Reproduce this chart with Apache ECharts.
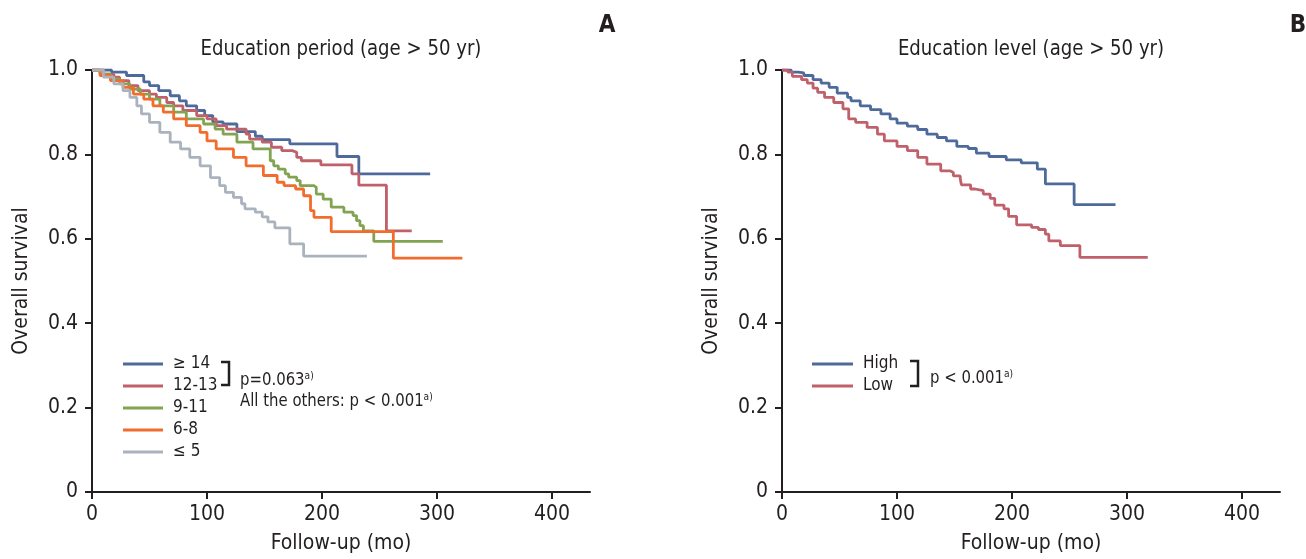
<!DOCTYPE html>
<html>
<head>
<meta charset="utf-8">
<script src="https://cdn.jsdelivr.net/npm/echarts@6/dist/echarts.min.js"></script>
<style>
  html, body { margin: 0; padding: 0; background: #fff; }
  #chart { width: 1306px; height: 559px; }
</style>
</head>
<body>
<div id="chart"></div>
<script>
// tick values
var ticksX = [0, 100, 200, 300, 400];
var ticksY = [0, 0.2, 0.4, 0.6, 0.8, 1.0];

// A: education period (months, survival)
var periodNames = ['\u2265 14', '12-13', '9-11', '6-8', '\u2264 5'];
var t14 = [0, 17, 30, 45, 50, 58, 68, 76, 82, 91, 98, 105, 114, 126, 142, 148, 172, 213, 232, 294];
var s14 = [1, .995, .987, .972, .963, .951, .939, .927, .915, .904, .892, .877, .872, .854, .843, .835, .825, .795, .754, .754];
var t12 = [0, 10, 19, 24, 32, 40, 50, 56, 65, 71, 79, 91, 100, 108, 117, 134, 137, 148, 156, 165, 174, 178, 182, 199, 226, 232, 256, 278];
var s12 = [1, .99, .983, .975, .963, .951, .943, .935, .923, .915, .904, .892, .884, .868, .86, .848, .836, .829, .817, .809, .805, .793, .785, .775, .754, .727, .619, .619];
var t9 = [0, 7, 16, 24, 33, 42, 50, 59, 71, 82, 97, 107, 114, 126, 140, 155, 158, 162, 168, 171, 178, 181, 193, 195, 201, 208, 219, 227, 230, 233, 236, 245, 305];
var s9 = [1, .99, .979, .967, .955, .943, .931, .915, .90, .884, .872, .86, .848, .829, .813, .785, .773, .765, .754, .746, .738, .726, .722, .706, .694, .675, .663, .655, .643, .631, .619, .594, .594];
var t6 = [0, 7, 16, 27, 36, 45, 53, 62, 71, 82, 94, 100, 108, 123, 134, 149, 161, 167, 177, 184, 190, 193, 208, 262, 322];
var s6 = [1, .987, .975, .959, .943, .931, .915, .90, .884, .868, .852, .832, .813, .793, .773, .75, .734, .726, .718, .702, .667, .651, .617, .554, .554];
var t5 = [0, 10, 19, 27, 33, 39, 43, 50, 59, 68, 77, 85, 94, 103, 111, 116, 123, 130, 133, 142, 148, 153, 159, 172, 184, 239];
var s5 = [1, .983, .967, .951, .935, .915, .896, .876, .852, .829, .813, .793, .773, .745, .726, .71, .698, .683, .671, .663, .652, .64, .626, .588, .559, .559];

// B: education level
var levelNames = ['High', 'Low'];
var tHigh = [0, 8, 14, 19, 27, 34, 41, 48, 57, 60, 68, 77, 86, 94, 100, 109, 118, 126, 135, 143, 152, 162, 169, 180, 195, 208, 222, 229, 254, 290];
var sHigh = [1, .995, .993, .987, .977, .969, .959, .945, .935, .927, .915, .906, .896, .884, .874, .867, .859, .848, .84, .832, .819, .814, .803, .795, .787, .78, .765, .73, .681, .681];
var tLow = [0, 5, 9, 17, 22, 27, 31, 37, 45, 53, 58, 64, 74, 83, 89, 100, 109, 118, 126, 138, 146, 149, 155, 156, 164, 168, 175, 181, 185, 193, 197, 204, 217, 223, 229, 232, 242, 259, 318];
var sLow = [1, .995, .985, .977, .969, .957, .947, .935, .923, .908, .884, .876, .864, .848, .832, .819, .809, .793, .777, .761, .757, .749, .742, .728, .718, .714, .706, .696, .68, .671, .653, .633, .627, .622, .611, .595, .584, .556, .556];

var INK = '#231f20';
var FONT = '"DejaVu Sans Condensed", "DejaVu Sans", sans-serif';
var colors = ['#4e6a9b', '#c0606b', '#82a452', '#f26d2d', '#aab3bd'];

function km(t, s) {
  return t.map(function (x, i) { return [x, s[i]]; });
}

function xAxis(idx) {
  return {
    gridIndex: idx, type: 'value', min: 0, max: 433, interval: 100,
    name: 'Follow-up (mo)', nameLocation: 'middle', nameGap: 41,
    nameTextStyle: { color: INK, fontSize: 21, fontFamily: FONT },
    axisLine: { onZero: false, lineStyle: { color: INK, width: 2 } },
    axisTick: { length: 7, lineStyle: { color: INK, width: 2 }, customValues: ticksX },
    axisLabel: { margin: 12, color: INK, fontSize: 21, fontFamily: FONT, customValues: ticksX },
    splitLine: { show: false }
  };
}

function yAxis(idx) {
  return {
    gridIndex: idx, type: 'value', min: 0, max: 1, interval: 0.2,
    name: 'Overall survival', nameLocation: 'middle', nameGap: 60,
    nameTextStyle: { color: INK, fontSize: 21, fontFamily: FONT },
    axisLine: { show: true, onZero: false, lineStyle: { color: INK, width: 2 } },
    axisTick: { show: true, length: 7, lineStyle: { color: INK, width: 2 }, customValues: ticksY },
    axisLabel: {
      margin: 14, color: INK, fontSize: 21, fontFamily: FONT, customValues: ticksY,
      formatter: function (v) { return v === 0 ? '0' : v.toFixed(1); }
    },
    splitLine: { show: false }
  };
}

function curve(name, data, color, g) {
  return {
    name: name, type: 'line', step: 'end', data: data,
    xAxisIndex: g, yAxisIndex: g,
    symbol: 'none', showSymbol: false,
    lineStyle: { color: color, width: 2.8 },
    itemStyle: { color: color }
  };
}

// flat rect icons stand in for the legend line samples
function legend(names, left, w) {
  return {
    data: names, orient: 'vertical', left: left, top: 353, padding: 0,
    icon: 'rect', itemWidth: w, itemHeight: 3, itemGap: 0, selectedMode: false,
    textStyle: { color: INK, fontSize: 17, lineHeight: 22, fontFamily: FONT, padding: [0, 0, 0, 5] }
  };
}

function txt(x, y, text, size, extra) {
  var st = {
    text: text, x: 0, y: 0, fill: INK, fontSize: size, fontFamily: FONT,
    align: 'left', verticalAlign: 'middle',
    rich: { s: { fontSize: 11, fontFamily: FONT, fill: INK, verticalAlign: 'top' } }
  };
  var el = { type: 'text', x: x, y: y, scaleX: 0.92, style: st };
  for (var k in extra) {
    if (k === 'scaleX') el.scaleX = extra[k]; else st[k] = extra[k];
  }
  return el;
}

function bracket(x, y1, y2) {
  return {
    type: 'polyline',
    shape: { points: [[x, y1], [x + 8, y1], [x + 8, y2], [x, y2]] },
    style: { stroke: INK, lineWidth: 2.5, fill: null }
  };
}

var chart = echarts.init(document.getElementById('chart'), null, { renderer: 'canvas' });
chart.setOption({
  animation: false,
  grid: [
    { left: 92, top: 70, width: 498, height: 422 },
    { left: 782, top: 70, width: 498, height: 422 }
  ],
  xAxis: [xAxis(0), xAxis(1)],
  yAxis: [yAxis(0), yAxis(1)],
  legend: [legend(periodNames, 123, 40), legend(levelNames, 812, 41)],
  series: [
    curve(periodNames[0], km(t14, s14), colors[0], 0),
    curve(periodNames[1], km(t12, s12), colors[1], 0),
    curve(periodNames[2], km(t9, s9), colors[2], 0),
    curve(periodNames[3], km(t6, s6), colors[3], 0),
    curve(periodNames[4], km(t5, s5), colors[4], 0),
    curve(levelNames[0], km(tHigh, sHigh), colors[0], 1),
    curve(levelNames[1], km(tLow, sLow), colors[1], 1)
  ],
  graphic: [
    txt(341, 49, 'Education period (age > 50 yr)', 22, { align: 'center', scaleX: 0.915 }),
    txt(1031, 49, 'Education level (age > 50 yr)', 22, { align: 'center', scaleX: 0.915 }),
    txt(607, 26, 'A', 24, { align: 'center', fontWeight: 'bold', scaleX: 1 }),
    txt(1298, 26, 'B', 24, { align: 'center', fontWeight: 'bold', scaleX: 1 }),
    bracket(221, 362, 385),
    txt(240, 380, 'p=0.063{s|a)}', 18),
    txt(240, 401, 'All the others: p < 0.001{s|a)}', 18),
    bracket(910, 361, 386),
    txt(930, 378, 'p < 0.001{s|a)}', 18)
  ]
});
</script>
</body>
</html>
